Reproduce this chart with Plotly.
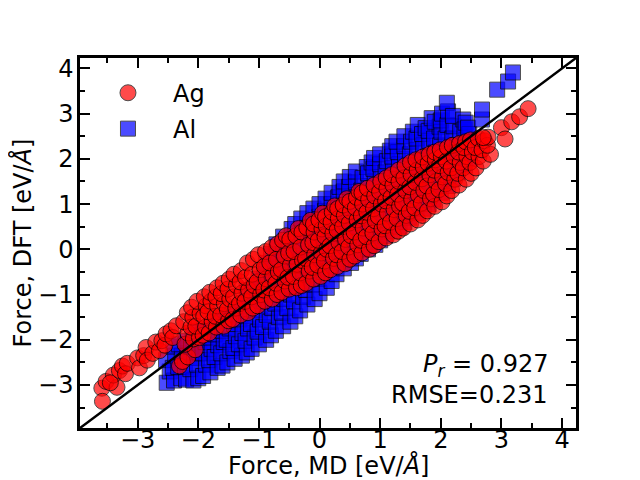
import plotly.graph_objects as go

# force parity data as (MD force, DFT force) in eV/A
ag_points = [
    # sparse low tail
    (-3.59, -3.07), (-3.58, -3.36), (-3.52, -2.92), (-3.34, -3.05), (-3.40, -2.78),
    (-3.45, -2.95), (-3.30, -2.68), (-3.25, -2.58), (-3.20, -2.75), (-3.17, -2.52),
    (-3.00, -2.40), (-2.97, -2.62), (-2.90, -2.35), (-2.86, -2.17), (-2.84, -2.45),
    (-2.75, -2.30), (-2.70, -2.05), (-2.64, -2.24), (-2.60, -2.02), (-2.55, -2.12),
    (-2.53, -1.87), (-2.45, -1.80), (-2.42, -1.95), (-2.36, -1.69), (-2.31, -2.58),
    (-2.26, -2.48), (-2.17, -2.38), (-2.05, -2.22),
    # main band
    (-2.22, -2.10), (-2.17, -1.85), (-2.24, -1.60), (-2.18, -1.40),
    (-2.08, -1.98), (-2.12, -1.72), (-2.09, -1.50), (-2.11, -1.28),
    (-1.98, -1.95), (-2.04, -1.70), (-1.97, -1.42), (-2.02, -1.15),
    (-1.92, -1.90), (-1.88, -1.72), (-1.91, -1.48), (-1.87, -1.25), (-1.90, -1.05),
    (-1.82, -1.85), (-1.77, -1.60), (-1.84, -1.38), (-1.79, -1.15), (-1.81, -0.95),
    (-1.70, -1.72), (-1.72, -1.48), (-1.68, -1.25), (-1.71, -1.05), (-1.69, -0.85),
    (-1.58, -1.70), (-1.63, -1.45), (-1.57, -1.20), (-1.62, -0.98), (-1.59, -0.75),
    (-1.50, -1.58), (-1.52, -1.33), (-1.48, -1.10), (-1.51, -0.88), (-1.49, -0.66),
    (-1.43, -1.55), (-1.38, -1.30), (-1.42, -1.05), (-1.37, -0.80), (-1.41, -0.55),
    (-1.30, -1.45), (-1.32, -1.20), (-1.28, -0.97), (-1.31, -0.72), (-1.29, -0.47),
    (-1.18, -1.40), (-1.23, -1.15), (-1.17, -0.90), (-1.22, -0.62), (-1.19, -0.30),
    (-1.10, -1.30), (-1.12, -1.05), (-1.08, -0.80), (-1.11, -0.55), (-1.09, -0.22),
    (-1.02, -1.25), (-0.97, -1.00), (-1.03, -0.72), (-0.98, -0.45), (-1.01, -0.12),
    (-0.90, -1.15), (-0.92, -0.90), (-0.88, -0.65), (-0.91, -0.38), (-0.89, -0.05),
    (-0.78, -1.10), (-0.83, -0.85), (-0.77, -0.58), (-0.82, -0.30), (-0.79, 0.04),
    (-0.70, -1.00), (-0.72, -0.75), (-0.68, -0.50), (-0.71, -0.22), (-0.69, 0.12),
    (-0.62, -0.95), (-0.57, -0.70), (-0.63, -0.45), (-0.58, -0.15), (-0.61, 0.20),
    (-0.55, 0.30),
    (-0.50, -0.88), (-0.52, -0.62), (-0.48, -0.35), (-0.51, -0.08), (-0.49, 0.22),
    (-0.38, -0.85), (-0.43, -0.60), (-0.37, -0.33), (-0.42, -0.05), (-0.39, 0.30),
    (-0.35, 0.46),
    (-0.30, -0.80), (-0.32, -0.52), (-0.28, -0.25), (-0.31, 0.05), (-0.29, 0.38),
    (-0.22, -0.75), (-0.17, -0.48), (-0.23, -0.20), (-0.18, 0.10), (-0.21, 0.48),
    (-0.15, 0.64),
    (-0.10, -0.66), (-0.12, -0.40), (-0.08, -0.12), (-0.11, 0.15), (-0.09, 0.38), (-0.10, 0.56),
    (0.02, -0.60), (-0.03, -0.35), (0.03, -0.08), (-0.02, 0.20), (0.04, 0.45), (-0.01, 0.65),
    (0.05, 0.80),
    (0.10, -0.52), (0.08, -0.26), (0.12, 0.00), (0.09, 0.28), (0.11, 0.52), (0.10, 0.72),
    (0.18, -0.45), (0.23, -0.20), (0.17, 0.08), (0.22, 0.35), (0.19, 0.60), (0.21, 0.82),
    (0.25, 0.96),
    (0.30, -0.38), (0.28, -0.12), (0.32, 0.15), (0.29, 0.42), (0.31, 0.68), (0.30, 0.90),
    (0.42, -0.32), (0.37, -0.05), (0.43, 0.22), (0.38, 0.50), (0.41, 0.75), (0.39, 0.98),
    (0.45, 1.12),
    (0.50, -0.22), (0.48, 0.05), (0.52, 0.30), (0.49, 0.58), (0.51, 0.84), (0.50, 1.06),
    (0.58, -0.15), (0.63, 0.10), (0.57, 0.38), (0.62, 0.65), (0.59, 0.92), (0.61, 1.15),
    (0.65, 1.28),
    (0.70, -0.08), (0.68, 0.20), (0.72, 0.47), (0.69, 0.74), (0.71, 1.00), (0.70, 1.25),
    (0.82, 0.00), (0.77, 0.28), (0.83, 0.55), (0.78, 0.82), (0.81, 1.10), (0.79, 1.35),
    (0.90, 0.08), (0.88, 0.36), (0.92, 0.63), (0.89, 0.90), (0.91, 1.18), (0.90, 1.42),
    (0.98, 0.17), (1.03, 0.45), (0.97, 0.72), (1.02, 1.00), (0.99, 1.27), (1.01, 1.50),
    (1.10, 0.25), (1.08, 0.52), (1.12, 0.80), (1.09, 1.07), (1.11, 1.34), (1.10, 1.58),
    (1.22, 0.32), (1.17, 0.60), (1.23, 0.88), (1.18, 1.15), (1.21, 1.42), (1.19, 1.65),
    (1.30, 0.40), (1.28, 0.68), (1.32, 0.95), (1.29, 1.22), (1.31, 1.50), (1.30, 1.75),
    (1.38, 0.47), (1.43, 0.75), (1.37, 1.02), (1.42, 1.30), (1.39, 1.58), (1.41, 1.85),
    (1.50, 0.56), (1.48, 0.84), (1.52, 1.10), (1.49, 1.38), (1.51, 1.65), (1.50, 1.92),
    (1.62, 0.65), (1.57, 0.92), (1.63, 1.20), (1.58, 1.48), (1.61, 1.75), (1.59, 1.98),
    (1.70, 0.75), (1.68, 1.02), (1.72, 1.30), (1.69, 1.56), (1.71, 1.82), (1.70, 2.04),
    (1.78, 0.85), (1.83, 1.12), (1.77, 1.40), (1.82, 1.65), (1.79, 1.90), (1.81, 2.10),
    (1.90, 0.95), (1.88, 1.22), (1.92, 1.50), (1.89, 1.75), (1.91, 1.98), (1.90, 2.15),
    (2.02, 1.05), (1.97, 1.32), (2.03, 1.60), (1.98, 1.85), (2.01, 2.05), (1.99, 2.20),
    (2.10, 1.18), (2.08, 1.45), (2.12, 1.70), (2.09, 1.95), (2.11, 2.25),
    (2.18, 1.30), (2.23, 1.55), (2.17, 1.80), (2.22, 2.05), (2.19, 2.30),
    (2.30, 1.42), (2.28, 1.68), (2.32, 1.92), (2.29, 2.15), (2.31, 2.34),
    (2.42, 1.55), (2.37, 1.80), (2.43, 2.05), (2.38, 2.25), (2.41, 2.38),
    (2.50, 1.68), (2.48, 1.92), (2.52, 2.15), (2.49, 2.42),
    (2.58, 1.80), (2.63, 2.05), (2.57, 2.25), (2.62, 2.45),
    (2.70, 1.95), (2.68, 2.20), (2.72, 2.40),
    (2.82, 2.10), (2.77, 2.30), (2.78, 2.48),
    # high tail
    (2.70, 2.47), (3.00, 2.69), (3.06, 2.44), (3.17, 2.82), (3.30, 2.93), (3.44, 3.11),
]

al_points = [
    (-2.52, -2.95), (-2.47, -2.70), (-2.53, -2.45),
    (-2.40, -2.90), (-2.42, -2.62), (-2.38, -2.35), (-2.41, -2.15),
    (-2.28, -2.85), (-2.33, -2.60), (-2.27, -2.35), (-2.32, -2.10),
    (-2.20, -2.88), (-2.22, -2.60), (-2.18, -2.30), (-2.21, -2.02),
    (-2.08, -2.90), (-2.13, -2.65), (-2.07, -2.40), (-2.12, -2.15), (-2.09, -1.90),
    (-2.00, -2.85), (-2.02, -2.55), (-1.98, -2.28), (-2.01, -2.00), (-1.99, -1.80),
    (-1.92, -2.80), (-1.87, -2.55), (-1.93, -2.30), (-1.88, -2.05), (-1.91, -1.80),
    (-1.80, -2.72), (-1.82, -2.45), (-1.78, -2.20), (-1.81, -1.95), (-1.79, -1.70),
    (-1.68, -2.62), (-1.73, -2.38), (-1.67, -2.12), (-1.72, -1.88), (-1.69, -1.60),
    (-1.60, -2.57), (-1.62, -2.30), (-1.58, -2.05), (-1.61, -1.80), (-1.59, -1.52),
    (-1.52, -2.50), (-1.47, -2.25), (-1.53, -2.00), (-1.48, -1.75), (-1.51, -1.45),
    (-1.40, -2.42), (-1.42, -2.18), (-1.38, -1.92), (-1.41, -1.65), (-1.39, -1.35),
    (-1.28, -2.35), (-1.33, -2.10), (-1.27, -1.85), (-1.32, -1.55), (-1.29, -1.25),
    (-1.20, -2.28), (-1.22, -2.02), (-1.18, -1.75), (-1.21, -1.48), (-1.19, -1.15), (-1.20, -0.90),
    (-1.12, -2.20), (-1.07, -1.95), (-1.13, -1.65), (-1.08, -1.35), (-1.11, -1.05), (-1.09, -0.80),
    (-1.00, -2.10), (-1.02, -1.82), (-0.98, -1.55), (-1.01, -1.25), (-0.99, -0.95), (-1.00, -0.65),
    (-0.88, -2.00), (-0.93, -1.72), (-0.87, -1.45), (-0.92, -1.15), (-0.89, -0.85), (-0.91, -0.55), (-0.88, -0.30),
    (-0.80, -1.90), (-0.82, -1.60), (-0.78, -1.30), (-0.81, -1.00), (-0.79, -0.70), (-0.80, -0.40), (-0.80, -0.10),
    (-0.72, -1.80), (-0.67, -1.50), (-0.73, -1.20), (-0.68, -0.90), (-0.71, -0.60), (-0.69, -0.25), (-0.71, 0.11),
    (-0.60, -1.70), (-0.62, -1.40), (-0.58, -1.10), (-0.61, -0.78), (-0.59, -0.45), (-0.60, -0.10), (-0.60, 0.28),
    (-0.48, -1.60), (-0.53, -1.30), (-0.47, -1.00), (-0.52, -0.65), (-0.49, -0.30), (-0.51, 0.05), (-0.46, 0.45),
    (-0.40, -1.48), (-0.42, -1.15), (-0.38, -0.82), (-0.41, -0.50), (-0.39, -0.15), (-0.40, 0.20), (-0.40, 0.56),
    (-0.32, -1.35), (-0.27, -1.05), (-0.33, -0.70), (-0.28, -0.35), (-0.31, 0.00), (-0.29, 0.35), (-0.30, 0.68),
    (-0.20, -1.22), (-0.22, -0.90), (-0.18, -0.55), (-0.21, -0.22), (-0.19, 0.12), (-0.20, 0.48), (-0.20, 0.80),
    (-0.08, -1.10), (-0.13, -0.78), (-0.07, -0.45), (-0.12, -0.10), (-0.09, 0.25), (-0.11, 0.60), (-0.10, 0.90),
    (0.00, -0.97), (-0.02, -0.65), (0.02, -0.30), (-0.01, 0.05), (0.01, 0.40), (0.00, 0.72), (0.00, 1.00),
    (0.12, -0.85), (0.07, -0.50), (0.13, -0.15), (0.08, 0.20), (0.11, 0.55), (0.09, 0.85), (0.10, 1.12),
    (0.20, -0.70), (0.18, -0.35), (0.22, 0.00), (0.19, 0.35), (0.21, 0.70), (0.20, 1.00), (0.20, 1.25),
    (0.28, -0.55), (0.33, -0.20), (0.27, 0.15), (0.32, 0.50), (0.29, 0.85), (0.31, 1.15), (0.33, 1.38),
    (0.40, -0.42), (0.38, -0.08), (0.42, 0.28), (0.39, 0.62), (0.41, 0.98), (0.40, 1.28), (0.40, 1.50),
    (0.52, -0.30), (0.47, 0.05), (0.53, 0.40), (0.48, 0.75), (0.51, 1.10), (0.49, 1.38), (0.50, 1.60),
    (0.60, -0.20), (0.58, 0.15), (0.62, 0.50), (0.59, 0.85), (0.61, 1.20), (0.60, 1.48), (0.60, 1.72),
    (0.68, -0.10), (0.73, 0.25), (0.67, 0.60), (0.72, 0.95), (0.69, 1.30), (0.71, 1.58), (0.78, 1.82),
    (0.80, 0.00), (0.78, 0.35), (0.82, 0.70), (0.79, 1.05), (0.81, 1.40), (0.80, 1.68), (0.86, 1.92),
    (0.92, 0.10), (0.87, 0.45), (0.93, 0.80), (0.88, 1.15), (0.91, 1.50), (0.89, 1.78), (0.90, 2.02),
    (1.00, 0.20), (0.98, 0.55), (1.02, 0.90), (0.99, 1.25), (1.01, 1.60), (1.00, 1.88), (1.00, 2.10),
    (1.08, 0.30), (1.13, 0.65), (1.07, 1.00), (1.12, 1.35), (1.09, 1.70), (1.11, 1.95), (1.16, 2.18),
    (1.20, 0.40), (1.18, 0.75), (1.22, 1.10), (1.19, 1.45), (1.21, 1.80), (1.20, 2.05), (1.20, 2.28),
    (1.32, 0.50), (1.27, 0.85), (1.33, 1.20), (1.28, 1.55), (1.31, 1.88), (1.29, 2.15), (1.27, 2.38),
    (1.40, 0.60), (1.38, 0.95), (1.42, 1.30), (1.39, 1.65), (1.41, 2.00), (1.40, 2.28), (1.40, 2.50),
    (1.48, 0.70), (1.53, 1.05), (1.47, 1.40), (1.52, 1.75), (1.49, 2.10), (1.51, 2.38), (1.54, 2.60),
    (1.60, 0.80), (1.58, 1.15), (1.62, 1.50), (1.59, 1.85), (1.61, 2.20), (1.60, 2.45), (1.62, 2.75),
    (1.72, 0.90), (1.67, 1.25), (1.73, 1.60), (1.68, 1.95), (1.71, 2.30), (1.69, 2.55), (1.75, 2.68),
    (1.80, 1.00), (1.78, 1.35), (1.82, 1.70), (1.79, 2.05), (1.81, 2.40), (1.80, 2.62), (1.85, 2.90),
    (1.88, 1.10), (1.93, 1.45), (1.87, 1.80), (1.92, 2.15), (1.89, 2.45), (1.98, 2.71), (1.90, 2.82),
    (2.00, 1.25), (1.98, 1.60), (2.02, 1.95), (1.99, 2.30), (2.01, 2.60), (2.00, 2.85), (2.02, 3.00),
    (2.12, 1.40), (2.07, 1.75), (2.13, 2.10), (2.08, 2.45), (2.11, 2.75), (2.12, 3.05), (2.10, 3.24),
    (2.20, 1.55), (2.18, 1.85), (2.22, 2.15), (2.19, 2.45), (2.21, 2.72), (2.20, 2.95),
    (2.28, 1.70), (2.33, 2.00), (2.27, 2.30), (2.32, 2.60), (2.37, 2.87),
    (2.40, 1.85), (2.38, 2.15), (2.42, 2.42), (2.39, 2.65), (2.41, 2.80),
    (2.48, 2.00), (2.53, 2.30), (2.47, 2.55), (2.45, 2.69),
    (2.68, 2.87), (2.68, 3.09), (2.93, 3.53), (3.11, 3.71), (3.19, 3.91),
]

ag_md, ag_dft = zip(*ag_points)
al_md, al_dft = zip(*al_points)

axis_lo, axis_hi = -3.95, 4.23
pearson_r = 0.927
rmse = 0.231

fig = go.Figure()

fig.add_trace(go.Scatter(
    x=al_md, y=al_dft, mode="markers", name="Al", legend="legend2",
    marker=dict(symbol="square", size=15, color="#0000ff", opacity=0.7,
                line=dict(color="black", width=1)),
))
fig.add_trace(go.Scatter(
    x=ag_md, y=ag_dft, mode="markers", name="Ag", legend="legend",
    marker=dict(symbol="circle", size=16, color="#ff0000", opacity=0.7,
                line=dict(color="black", width=1)),
))
# y = x guide
fig.add_trace(go.Scatter(
    x=[axis_lo, axis_hi], y=[axis_lo, axis_hi], mode="lines",
    line=dict(color="black", width=2.5), showlegend=False, hoverinfo="skip",
))

axis_style = dict(
    range=[axis_lo, axis_hi], dtick=1, tick0=0,
    ticks="inside", ticklen=10, tickwidth=2, tickcolor="black",
    showline=True, linewidth=2.5, linecolor="black", mirror="ticks",
    showgrid=False, zeroline=False, automargin=False,
    tickfont=dict(size=24, color="black"),
    minor=dict(ticks="inside", ticklen=5, tickwidth=2, tickcolor="black", dtick=0.5, showgrid=False),
)

fig.update_xaxes(**axis_style, ticklabelstandoff=-12)
fig.update_yaxes(**axis_style, ticklabelstandoff=-1,
                 title=dict(text="Force, DFT [eV/<i>Å</i>]", font=dict(size=24), standoff=8))

legend_style = dict(
    xref="paper", yref="paper", xanchor="left", yanchor="middle",
    bgcolor="rgba(0,0,0,0)", borderwidth=0, font=dict(size=24, color="black"),
    itemwidth=80,
)
# the page body adds an 8 px offset, so the figure is 8 px smaller than the window
fig.update_layout(
    width=632, height=472,
    margin=dict(l=72, r=64, t=50, b=52),
    paper_bgcolor="white", plot_bgcolor="white",
    font=dict(family="DejaVu Sans", color="black", size=24),
    legend=dict(**legend_style, x=0.006, y=0.905),
    legend2=dict(**legend_style, x=0.006, y=0.808),
    annotations=[
        # x axis title, placed by hand just under the tick labels
        dict(xref="paper", yref="paper", x=0.5, y=-0.1027, xanchor="center", yanchor="middle",
             text="Force, MD [eV/<i>Å</i>]", showarrow=False, font=dict(size=24)),
        dict(xref="paper", yref="paper", x=0.948, y=0.17, xanchor="right", yanchor="middle",
             text=f"<i>P</i><sub><i>r</i></sub> = {pearson_r:.3f}", showarrow=False, font=dict(size=24)),
        dict(xref="paper", yref="paper", x=0.948, y=0.089, xanchor="right", yanchor="middle",
             text=f"RMSE={rmse:.3f}", showarrow=False, font=dict(size=24)),
    ],
)

fig.write_html("out.html")
